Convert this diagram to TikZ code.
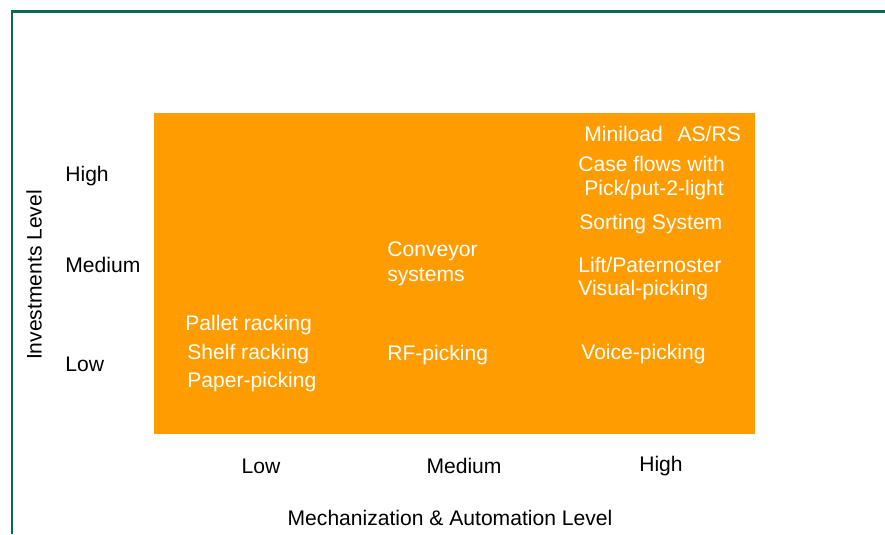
\documentclass[tikz,border=0pt]{standalone}
\usepackage{fontspec}
\setmainfont{Liberation Sans}
\definecolor{boxorange}{HTML}{FF9C00}
\definecolor{framegreen}{HTML}{0B6B4E}

\begin{document}
\begin{tikzpicture}[x=0.02cm,y=-0.02cm,
  lbl/.style={font=\fontsize{12}{14}\selectfont,inner sep=0pt},
  inlbl/.style={lbl,white,anchor=west}]
\useasboundingbox (0,0) rectangle (885,534);
\draw[framegreen,line width=1.2pt] (12,534)--(12,11.5)--(885,11.5);
\fill[boxorange] (154,113) rectangle (755,434);

 \node[lbl,rotate=90] (ylab) at (34,275) {Investments Level};
 \node[lbl,anchor=west] (yhigh) at (65,176) {High};
 \node[lbl,anchor=west] (ymed) at (65,265) {Medium};
 \node[lbl,anchor=west] (ylow) at (65,364) {Low};

 \node[lbl] (xlow) at (261,466) {Low};
 \node[lbl] (xmed) at (464,466) {Medium};
 \node[lbl] (xhigh) at (661,466) {High};
 \node[lbl] (xlab) at (450,518) {Mechanization \& Automation Level};

 \node[inlbl] (pallet) at (185,325) {Pallet racking};
 \node[inlbl] (shelf) at (187,354) {Shelf racking};
 \node[inlbl] (paper) at (187,382) {Paper-picking};

 \node[inlbl] (conv1) at (387,251) {Conveyor};
 \node[inlbl] (conv2) at (387,277) {systems};
 \node[inlbl] (rf) at (387,355) {RF-picking};

 \node[inlbl] (miniload) at (584,134) {Miniload\hspace{0.7em}AS/RS};
 \node[inlbl] (case1) at (578,164) {Case flows with};
 \node[inlbl] (case2) at (584,190) {Pick/put-2-light};
 \node[inlbl] (sorting) at (579,224) {Sorting System};
 \node[inlbl] (lift) at (578,265) {Lift/Paternoster};
 \node[inlbl] (visual) at (578,290) {Visual-picking};
 \node[inlbl] (voice) at (581,354) {Voice-picking};

\end{tikzpicture}
\end{document}
